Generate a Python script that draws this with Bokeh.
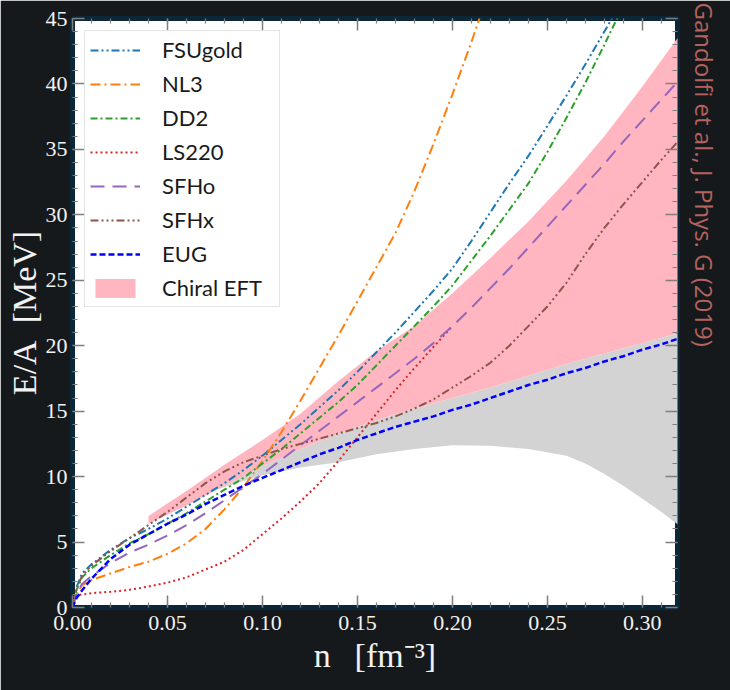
from bokeh.plotting import figure
from bokeh.models import (Range1d, SingleIntervalTicker, LinearAxis, PrintfTickFormatter,
                          Legend, LegendItem, Title)
from bokeh.embed import file_html
from bokeh.resources import INLINE

# ---------------- data ----------------
n_a = [0, 0.002, 0.005, 0.01, 0.02, 0.03, 0.04, 0.05, 0.06, 0.07, 0.08, 0.09,
       0.10, 0.11, 0.12, 0.13, 0.14, 0.15, 0.16, 0.17, 0.18, 0.19,
       0.20, 0.21, 0.22, 0.23, 0.24, 0.25, 0.26, 0.27, 0.28, 0.29]
n_full = n_a + [0.30, 0.31, 0.32]

E_fsugold = [0, 1.5, 2.6, 3.3, 4.4, 5.3, 6.0, 6.8, 7.7, 8.6, 9.5, 10.5,
             11.6, 12.8, 14.0, 15.3, 16.6, 18.0, 19.5, 21.0, 22.6, 24.2,
             25.9, 28.0, 30.2, 32.4, 34.5, 36.8, 39.1, 41.5, 44.0, 46.5]

n_nl3 = [0, 0.002, 0.005, 0.01, 0.02, 0.03, 0.04, 0.05, 0.06, 0.07, 0.08, 0.09,
         0.10, 0.11, 0.12, 0.13, 0.14, 0.15, 0.16, 0.17, 0.18, 0.19, 0.20, 0.21, 0.22]
E_nl3 = [0, 1.0, 1.7, 2.1, 2.6, 3.1, 3.5, 4.1, 4.9, 6.0, 7.5, 9.2,
         11.2, 13.4, 15.8, 18.3, 20.8, 23.4, 26.0, 28.6, 31.8, 35.4, 39.2, 43.2, 47.5]

E_dd2 = [0, 1.3, 2.3, 3.0, 4.0, 4.9, 5.6, 6.4, 7.2, 8.1, 9.0, 9.9,
         11.0, 12.1, 13.3, 14.5, 15.7, 17.0, 18.5, 20.0, 21.5, 23.0,
         24.6, 26.5, 28.4, 30.4, 32.4, 34.8, 37.4, 40.1, 43.0, 46.0]

n_ls220 = [0, 0.001, 0.003, 0.01, 0.02, 0.03, 0.04, 0.05, 0.06, 0.07, 0.08, 0.09,
           0.10, 0.11, 0.12, 0.13, 0.14, 0.15, 0.16, 0.17, 0.18, 0.19, 0.20]
E_ls220 = [0, 0.5, 0.95, 1.1, 1.2, 1.35, 1.6, 1.9, 2.3, 2.9, 3.5, 4.4,
           5.6, 6.8, 8.1, 9.5, 11.2, 13.0, 14.8, 16.6, 18.3, 19.9, 21.5]

E_sfho = [0, 1.0, 1.8, 2.4, 3.4, 4.2, 4.8, 5.5, 6.3, 7.2, 8.2, 9.2,
          10.2, 11.3, 12.4, 13.5, 14.6, 15.7, 16.8, 17.9, 19.0, 20.2,
          21.5, 22.9, 24.4, 25.9, 27.5, 29.1, 30.7, 32.3, 33.9, 35.6,
          37.2, 38.8, 40.4]

E_sfhx = [0, 1.4, 2.4, 3.2, 4.3, 5.3, 6.3, 7.3, 8.4, 9.5, 10.4, 11.1,
          11.6, 12.1, 12.5, 12.9, 13.3, 13.7, 14.1, 14.6, 15.2, 15.9,
          16.8, 17.7, 18.7, 20.0, 21.5, 23.0, 24.8, 27.0, 29.0, 30.8,
          32.5, 34.2, 35.8]

E_ug = [0, 0.7, 1.3, 2.2, 3.7, 4.8, 5.6, 6.4, 7.1, 7.9, 8.6, 9.3,
        9.9, 10.5, 11.1, 11.7, 12.2, 12.8, 13.3, 13.8, 14.2, 14.6,
        15.1, 15.5, 16.0, 16.5, 17.0, 17.4, 17.9, 18.3, 18.8, 19.2,
        19.7, 20.1, 20.6]

n_eft = [0.04, 0.06, 0.08, 0.10, 0.12, 0.14, 0.16, 0.18, 0.20, 0.22, 0.24, 0.26, 0.28, 0.30, 0.32]
eft_hi = [7.0, 8.9, 10.9, 12.8, 14.8, 17.3, 19.6, 21.5, 24.0, 26.7, 29.5, 32.6, 36.0, 39.8, 43.8]
eft_lo = [6.4, 7.8, 9.3, 10.8, 12.1, 13.3, 14.3, 15.2, 16.0, 16.8, 17.7, 18.6, 19.4, 20.2, 21.0]

n_gray = [0.07, 0.08, 0.10, 0.12, 0.14, 0.16, 0.18, 0.20, 0.22, 0.24, 0.26, 0.27, 0.28, 0.29, 0.30, 0.31, 0.32]
gray_lo = [8.7, 9.2, 10.1, 10.7, 11.1, 11.7, 12.1, 12.4, 12.35, 12.1, 11.6, 11.0, 10.2, 9.3, 8.3, 7.3, 6.2]
gray_hi = [8.7, 9.3, 10.8, 12.1, 13.3, 14.3, 15.2, 16.0, 16.8, 17.7, 18.6, 19.0, 19.4, 19.8, 20.2, 20.6, 21.0]

x_ticks_interval = 0.05
y_ticks_interval = 5
x_title = "n\u2002\u2009[fm\u207b\u00b3]"
y_title = "E/A\u2002[MeV]"
credit = "Gandolfi et al., J. Phys. G (2019)"

# ---------------- figure ----------------
BG = "#16191b"
TXT = "#f2f2f2"
TICK = "#7f7f7f"
SERIF = "Liberation Serif"

p = figure(frame_width=605, frame_height=589,
           x_range=Range1d(0, 0.3185), y_range=Range1d(0, 45),
           output_backend="svg", toolbar_location=None,
           min_border_left=72, min_border_right=0, min_border_top=18, min_border_bottom=83,
           background_fill_color="white", border_fill_color=BG,
           outline_line_color="#0c2838", outline_line_width=5)
p.grid.visible = False


def style_axis(ax, ticker, labels=True, standoff=6):
    ax.ticker = ticker
    ax.axis_line_color = None
    ax.major_tick_in = 12
    ax.major_tick_out = 0
    ax.minor_tick_in = 5
    ax.minor_tick_out = 0
    ax.major_tick_line_color = TICK
    ax.minor_tick_line_color = TICK
    ax.major_tick_line_width = 1.5
    ax.minor_tick_line_width = 1.2
    if labels:
        ax.major_label_text_font = SERIF
        ax.major_label_text_font_size = "22px"
        ax.major_label_text_color = TXT
        ax.major_label_standoff = standoff
    else:
        ax.major_label_text_font_size = "0px"
        ax.major_label_text_color = None
        ax.major_label_standoff = 0
    ax.axis_label_text_font = SERIF
    ax.axis_label_text_font_style = "normal"
    ax.axis_label_text_font_size = "34px"
    ax.axis_label_text_color = TXT


xt = SingleIntervalTicker(interval=x_ticks_interval, num_minor_ticks=5)
yt = SingleIntervalTicker(interval=y_ticks_interval, num_minor_ticks=5)
style_axis(p.xaxis[0], xt, True, 8)
p.xaxis[0].formatter = PrintfTickFormatter(format="%.2f")
p.xaxis[0].axis_label = x_title
p.xaxis[0].axis_label_standoff = 4
style_axis(p.yaxis[0], yt, True, 5)
p.yaxis[0].axis_label = y_title
p.yaxis[0].axis_label_standoff = 0

top = LinearAxis()
style_axis(top, SingleIntervalTicker(interval=x_ticks_interval, num_minor_ticks=5), False)
p.add_layout(top, "above")
right = LinearAxis()
style_axis(right, SingleIntervalTicker(interval=y_ticks_interval, num_minor_ticks=5), False)
p.add_layout(right, "right")

p.add_layout(Title(text=credit, align="left", vertical_align="bottom", offset=-16,
                   standoff=20, text_font="Open Sans", text_font_size="24px",
                   text_font_style="normal", text_color="#b5625f"), "right")

# bands
r_gray = p.varea(x=n_gray, y1=gray_lo, y2=gray_hi, fill_color="#d3d3d3", fill_alpha=1.0)
r_eft = p.varea(x=n_eft, y1=eft_lo, y2=eft_hi, fill_color="#ffb6c1", fill_alpha=1.0)

lw = 2
r_fsu = p.line(n_a, E_fsugold, line_color="#1f77b4", line_width=lw, line_dash="8 3 2 3 2 3")
r_nl3 = p.line(n_nl3, E_nl3, line_color="#ff7f0e", line_width=lw, line_dash="10 4 2 4")
r_dd2 = p.line(n_a, E_dd2, line_color="#2ca02c", line_width=lw, line_dash="7 3 2 3")
r_ls = p.line(n_ls220, E_ls220, line_color="#d62728", line_width=lw, line_dash="2 3")
r_sfho = p.line(n_full, E_sfho, line_color="#9467bd", line_width=lw, line_dash="14 8")
r_sfhx = p.line(n_full, E_sfhx, line_color="#8c564b", line_width=lw, line_dash="8 3 2 3 2 3 2 3")
r_ug = p.line(n_full, E_ug, line_color="#0000ff", line_width=2.5, line_dash="6 3")

legend = Legend(items=[
    LegendItem(label="FSUgold", renderers=[r_fsu]),
    LegendItem(label="NL3", renderers=[r_nl3]),
    LegendItem(label="DD2", renderers=[r_dd2]),
    LegendItem(label="LS220", renderers=[r_ls]),
    LegendItem(label="SFHo", renderers=[r_sfho]),
    LegendItem(label="SFHx", renderers=[r_sfhx]),
    LegendItem(label="EUG", renderers=[r_ug]),
    LegendItem(label="Chiral EFT", renderers=[r_eft]),
], location="top_left")
legend.label_text_font = "Lato"
legend.label_text_font_size = "22px"
legend.label_text_color = "#1a1a1a"
legend.glyph_width = 50
legend.glyph_height = 24
legend.label_height = 24
legend.label_width = 112
legend.spacing = 7
legend.padding = 5
legend.margin = 12
legend.label_standoff = 22
legend.border_line_color = "#cccccc"
legend.border_line_width = 1
legend.background_fill_alpha = 0.85
p.add_layout(legend)

open("out.html", "w").write(file_html(p, INLINE))
